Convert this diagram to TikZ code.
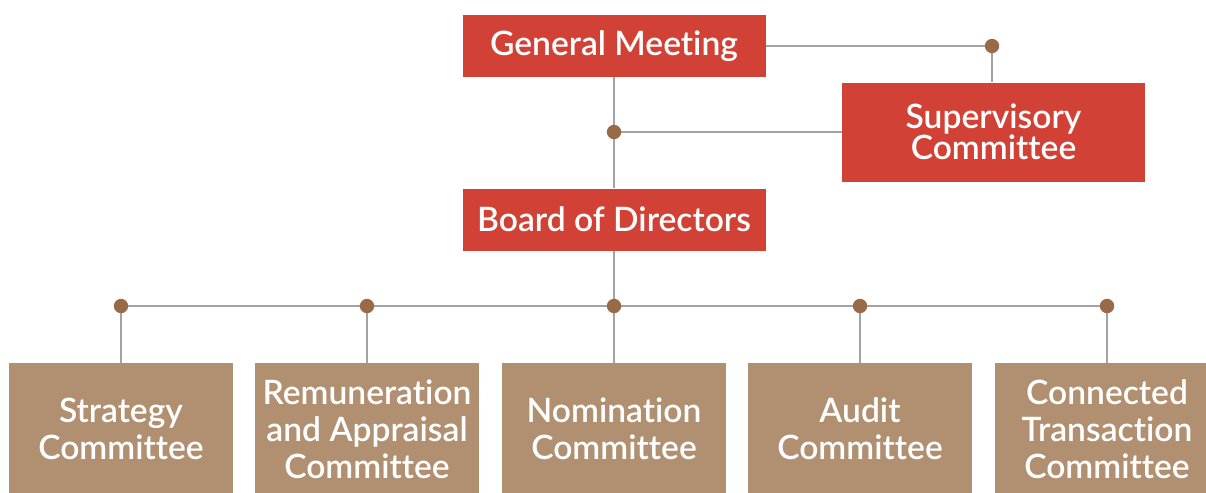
\documentclass[tikz,border=0pt]{standalone}
\usepackage{fontspec}
\newfontfamily\boxfont{Lato Semibold}[Ligatures={NoCommon,NoContextual}]
\usetikzlibrary{positioning}
\definecolor{boxred}{RGB}{210,65,54}
\definecolor{boxtan}{RGB}{176,144,112}
\definecolor{dotbrown}{RGB}{152,106,72}
\definecolor{linegray}{RGB}{163,163,163}

\begin{document}
\begin{tikzpicture}[
    x=0.5pt, y=-0.5pt,
    redbox/.style={
        rectangle,
        fill=boxred,
        text=white,
        minimum width=151.5pt,
        minimum height=31pt,
        inner sep=0pt,
        align=center,
        font=\boxfont\fontsize{16.8}{15.5}\selectfont
    },
    tanbox/.style={
        rectangle,
        fill=boxtan,
        text=white,
        minimum width=112pt,
        minimum height=66pt,
        inner sep=0pt,
        align=center,
        font=\boxfont\fontsize{16.8}{18.5}\selectfont
    },
    link/.style={
        draw=linegray,
        line width=0.8pt
    },
    dot/.style={
        fill=dotbrown
    }
]
\useasboundingbox (0,0) rectangle (1206,493);

% Top level
\node[redbox] (gm) at (614,46) {General Meeting};
\node[redbox, minimum height=49.5pt] (sup) at (993.5,132) {Supervisory\\Committee};
\node[redbox] (bod) at (614,219.5) {Board of Directors};

% Committees
\node[tanbox] (strategy) at (121,429) {Strategy\\Committee};
\node[tanbox] (remun) at (367,429) {Remuneration\\and Appraisal\\Committee};
\node[tanbox] (nomin) at (614,429) {Nomination\\Committee};
\node[tanbox] (audit) at (860,429) {Audit\\Committee};
\node[tanbox] (connected) at (1107,429) {Connected\\Transaction\\Committee};

% Joints
\coordinate (jsup) at (992,46);
\coordinate (jmid) at (614,132);
\coordinate (jb1) at (121,306);
\coordinate (jb2) at (367,306);
\coordinate (jb3) at (614,306);
\coordinate (jb4) at (860,306);
\coordinate (jb5) at (1107,306);

% Lines
\draw[link] (gm.east) -- (jsup) -- (jsup |- sup.north);
\draw[link] (gm.south) -- (bod.north);
\draw[link] (jmid) -- (sup.west);
\draw[link] (bod.south) -- (jb3);
\draw[link] (jb1) -- (jb5);
\draw[link] (jb1) -- (strategy.north);
\draw[link] (jb2) -- (remun.north);
\draw[link] (jb3) -- (nomin.north);
\draw[link] (jb4) -- (audit.north);
\draw[link] (jb5) -- (connected.north);

% Dots
\foreach \j in {jsup,jmid,jb1,jb2,jb3,jb4,jb5}
    \fill[dot] (\j) circle (3.6pt);

\end{tikzpicture}
\end{document}
